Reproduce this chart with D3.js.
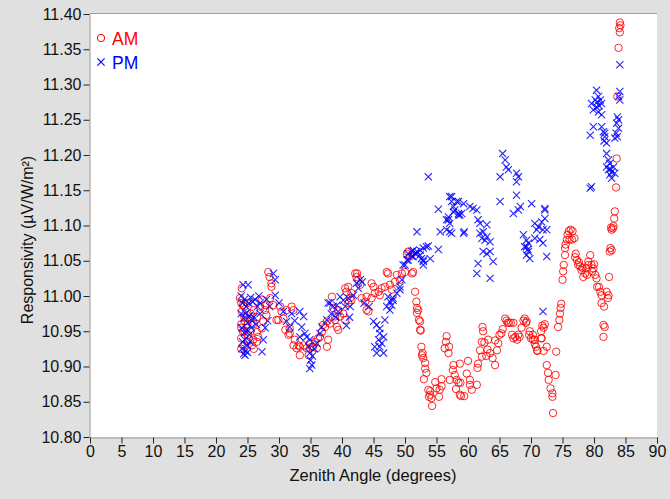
<!DOCTYPE html>
<html>
<head>
<meta charset="utf-8">
<script src="https://cdn.jsdelivr.net/npm/d3@7"></script>
<style>
  html, body { margin: 0; padding: 0; background: #e0e0e0; }
  svg { display: block; }
  text { font-family: "Liberation Sans", Arial, Helvetica, sans-serif; }
</style>
</head>
<body>
<svg id="chart" width="670" height="499"></svg>
<script>
// Responsivity versus zenith angle, morning (AM) and afternoon (PM) runs.
const xTicks = d3.range(0, 91, 5);
const yTicks = [10.80, 10.85, 10.90, 10.95, 11.00, 11.05, 11.10, 11.15, 11.20, 11.25, 11.30, 11.35, 11.40];
const seriesNames = ["AM", "PM"];
const seriesColors = ["#ff0000", "#0000ff"];

// [zenith angle (deg), responsivity (µV/W/m²)]
const amPoints = [
  [24.1,11.011],[23.8,10.997],[24.3,10.987],[24.1,10.978],[24.9,10.973],[24.6,10.964],[25.4,10.968],[24.3,10.949],
  [25.1,10.945],[25.9,10.938],[25.7,10.930],[26.7,10.942],[26.5,10.949],[27.3,10.954],[27.5,10.964],[28.0,10.973],
  [27.8,10.987],[28.6,10.997],[24.0,10.990],[24.0,10.960],[24.0,10.955],[24.0,10.940],[24.0,10.925],[24.5,10.985],
  [24.5,10.970],[24.5,10.950],[24.5,10.930],[25.0,10.990],[25.0,10.960],[25.0,10.935],[25.5,10.975],[25.5,10.950],
  [26.0,10.980],[26.0,10.960],[26.0,10.925],[26.5,10.970],[26.5,10.935],[28.3,11.034],[28.5,11.027],[28.8,11.018],
  [28.8,11.013],[27.3,10.995],[27.0,10.985],[27.8,10.980],
  [29.1,10.987],[29.6,10.966],[30.2,10.985],[30.4,10.978],[30.7,10.968],[31.0,10.952],[31.5,10.945],[31.7,10.954],
  [32.3,10.930],[32.8,10.926],[33.3,10.916],[33.1,10.930],[33.9,10.930],[34.4,10.926],[34.7,10.916],[35.2,10.928],
  [35.7,10.935],[36.2,10.940],[36.8,10.949],[37.0,10.959],[37.6,10.964],[29.9,10.966],[31.2,10.980],[32.0,10.985],
  [32.3,10.980],[31.7,10.947],[32.5,10.938],[33.3,10.928],[34.9,10.933],[35.4,10.928],[36.0,10.926],[36.5,10.942],
  [37.3,10.956],[37.8,10.938],[37.6,10.928],
  [38.1,10.961],[38.9,10.966],[39.2,10.956],[39.4,10.952],[39.7,10.971],[40.2,10.975],[40.5,10.966],[41.0,10.990],
  [41.5,10.994],[38.4,10.999],[38.6,10.983],[39.4,10.980],[38.9,10.971],[40.5,11.011],[41.0,11.013],[40.7,11.006],
  [41.5,11.004],[41.3,10.997],[42.1,11.032],[42.3,11.027],[42.6,11.023],[42.9,11.016],[42.4,11.032],[43.1,10.997],
  [43.7,10.992],[43.9,10.980],[44.2,10.978],[43.9,10.999],[44.7,10.997],[44.7,11.018],[45.0,11.013],[45.2,11.004],
  [45.8,11.006],[46.0,11.001],[46.3,11.011],[46.8,11.013],[47.1,11.034],[47.3,11.032],[47.6,11.016],[47.9,11.009],
  [48.4,11.020],[48.7,11.030],[49.2,11.023],[49.5,11.032],[50.0,11.034],[50.3,11.060],[50.5,11.063],[50.8,11.056],
  [51.1,11.032],[51.3,11.034],[51.6,11.006],[51.8,10.992],[52.1,10.980],[52.2,10.966],[52.4,10.952],[52.6,10.928],
  [52.7,10.916],
  [51.9,10.983],[51.9,10.976],[52.4,10.964],[52.5,10.951],[52.8,10.919],[52.9,10.912],[53.2,10.905],[53.2,10.897],
  [53.4,10.891],[53.0,10.882],[53.7,10.867],[54.0,10.860],[54.2,10.855],[54.3,10.844],[53.8,10.857],[54.0,10.865],
  [54.8,10.878],[55.0,10.869],[55.5,10.867],[55.4,10.857],[55.8,10.882],[55.8,10.872],[56.6,10.943],[56.5,10.935],
  [56.3,10.926],[57.0,10.928],[56.9,10.919],[57.1,10.881],[57.7,10.902],[57.6,10.895],[57.9,10.888],[58.2,10.881],
  [58.7,10.904],[58.1,10.868],[58.5,10.877],[58.8,10.877],[58.7,10.860],[58.9,10.858],[59.4,10.858],[59.8,10.890],
  [60.0,10.908],[60.3,10.881],[60.3,10.874],[60.6,10.867],[61.4,10.874],[61.6,10.904],[61.5,10.898],[61.9,10.923],
  [62.2,10.914],[62.3,10.956],[62.4,10.950],[62.2,10.935],[62.6,10.934],[63.1,10.924],[63.2,10.938],[63.5,10.919],
  [62.9,10.915],[63.9,10.912],[64.3,10.902],[64.6,10.923],[64.3,10.937],[64.8,10.933],[65.0,10.945],[65.3,10.947],
  [65.5,10.953],[65.9,10.968],[66.1,10.965],[66.3,10.962],[66.5,10.962],[66.8,10.962],[67.2,10.962],[67.0,10.945],
  [67.2,10.940],[67.5,10.942],[67.8,10.938],[68.0,10.945],[68.2,10.942],[68.8,10.965],[69.0,10.968],[69.2,10.962],
  [69.7,10.945],[70.0,10.940],[70.3,10.938],[70.6,10.932],[70.8,10.928],[71.0,10.922],[71.6,10.950],[71.6,10.940],
  [71.8,10.958],[72.0,10.922],
  [68.5,10.955],[69.3,10.964],[69.8,10.950],[70.3,10.945],[70.6,10.938],[71.0,10.923],[71.7,10.940],[72.0,10.955],
  [72.2,10.960],[72.5,10.928],[72.5,10.902],[72.7,10.891],[72.8,10.881],[73.1,10.869],[73.4,10.862],[73.4,10.857],
  [73.5,10.834],[73.9,10.888],[74.0,10.921],[74.3,10.956],[74.5,10.966],[74.6,10.975],[74.7,10.983],[74.8,10.989],
  [75.0,11.023],[75.1,11.035],[75.2,11.044],[75.4,11.058],[75.4,11.068],[75.5,11.073],[75.7,11.080],[75.8,11.087],
  [76.0,11.092],[76.3,11.094],[76.6,11.092],[76.1,11.080],[76.5,11.080],[76.9,11.082],[77.1,11.060],[77.3,11.051],
  [77.5,11.044],[77.8,11.042],[78.0,11.037],[78.3,11.027],[78.6,11.032],[78.8,11.039],[79.1,11.044],[79.4,11.058],
  [79.1,11.049],[79.6,11.044],[79.9,11.039],[80.2,11.030],[80.4,11.025],[80.5,11.013],[80.8,11.013],[81.0,11.006],
  [81.2,11.001],[81.2,10.990],[81.6,10.985],[81.5,10.959],[81.7,10.956],[81.5,10.942],[82.0,11.006],[82.3,11.001],
  [82.2,10.997],[82.4,11.027],[82.5,11.063],[82.8,11.065],[82.6,11.068],[82.8,11.094],[83.1,11.099],[83.0,11.096],
  [82.7,11.097],[83.2,11.110],[83.3,11.120],[83.5,11.154],[83.6,11.195],[83.7,11.283],[83.9,11.352],[84.1,11.388],
  [84.2,11.384],[84.0,11.380],[84.1,11.374],
  [77.0,11.055],[77.6,11.048],[78.2,11.040],[78.9,11.030],[79.7,11.035],[80.0,11.045]
];

const pmPoints = [
  [24.3,11.016],[25.1,11.016],[24.0,11.000],[24.2,10.990],[24.5,10.995],[24.8,10.985],[25.2,10.990],[25.5,10.998],
  [25.8,10.992],[26.2,10.995],[26.6,10.985],[27.0,10.990],[24.0,10.975],[24.4,10.968],[24.7,10.975],[25.0,10.962],
  [25.3,10.972],[25.7,10.965],[26.0,10.970],[26.4,10.960],[24.1,10.955],[24.5,10.948],[24.9,10.952],[25.3,10.945],
  [25.6,10.955],[24.2,10.935],[24.6,10.938],[25.0,10.930],[25.4,10.935],[24.1,10.925],[24.4,10.918],[24.7,10.922],
  [24.6,10.916],[25.0,10.920],[27.3,10.921],[27.5,10.938],[27.8,10.955],[28.2,10.965],[27.0,10.975],[28.5,10.985],
  [29.1,11.032],[29.4,11.023],[29.4,11.001],[28.0,10.995],[26.8,11.000],
  [30.7,10.978],[31.2,10.964],[31.7,10.956],[33.3,10.978],[33.9,10.971],[33.6,10.956],[34.1,10.947],[33.3,10.942],
  [34.4,10.942],[34.9,10.938],[34.7,10.928],[34.9,10.919],[35.0,10.909],[35.2,10.902],[34.9,10.897],[36.0,10.933],
  [36.5,10.947],[36.8,10.956],[37.6,10.966],[30.0,10.990],[32.0,10.975],[32.5,10.965],[35.3,10.915],[35.6,10.925],
  [38.1,10.990],[38.6,10.985],[39.2,10.987],[39.4,10.978],[39.7,10.999],[40.2,10.994],[40.5,10.985],[41.0,10.997],
  [41.3,10.985],[41.8,11.001],[42.3,11.018],[42.6,11.011],[42.9,11.023],[37.8,10.990],[38.3,10.975],[39.0,10.970],
  [40.7,10.958],[41.2,10.970],[43.2,11.020],[43.5,10.990],[44.3,10.985],
  [45.0,10.964],[45.5,10.959],[46.0,10.954],[46.6,10.942],[45.8,10.938],[46.3,10.933],[45.5,10.919],[46.8,10.966],
  [46.0,10.947],[46.0,10.928],[46.6,10.919],[45.2,10.928],[47.3,10.999],[47.6,10.992],[47.9,10.987],[48.1,10.997],
  [48.7,11.004],[49.2,11.013],[49.5,11.023],[50.0,11.044],[50.5,11.051],[51.1,11.056],[51.6,11.060],[52.4,11.065],
  [52.6,11.053],[52.9,11.049],[49.7,11.044],[50.3,11.051],[50.5,11.060],[51.1,11.063],[51.3,11.065],[51.8,11.060],
  [47.1,10.985],[47.6,10.980],[48.1,10.994],[49.2,11.009],
  [53.7,11.169],[51.9,11.091],[52.9,11.068],[53.7,11.071],[55.3,11.066],[54.0,11.053],[52.9,11.051],[51.9,11.063],
  [51.3,11.056],[53.4,11.070],[52.4,11.058],[52.9,11.044],
  [55.3,11.123],[55.6,11.091],[56.6,11.108],[56.9,11.112],[57.1,11.141],[57.4,11.134],[57.7,11.127],[57.9,11.122],
  [58.2,11.134],[58.5,11.117],[58.7,11.115],[59.0,11.117],[59.3,11.131],[59.4,11.091],[57.1,11.091],[56.6,11.094],
  [60.3,11.127],[60.8,11.124],[61.4,11.122],[61.6,11.108],[61.9,11.103],[62.4,11.091],[63.0,11.101],[61.9,11.089],
  [62.2,11.082],[62.7,11.079],[63.0,11.084],[63.5,11.077],[62.4,11.063],[63.0,11.060],[63.5,11.063],[61.6,11.046],
  [61.4,11.032],[64.0,11.049],[63.5,11.025],[57.4,11.141],[58.5,11.134],[57.7,11.119],[58.5,11.115],[56.9,11.108],
  [57.1,11.103],[57.4,11.089],[59.3,11.089],
  [65.5,11.202],[65.9,11.193],[66.1,11.183],[66.4,11.179],[65.1,11.169],[67.7,11.174],[68.0,11.169],[67.7,11.162],
  [67.7,11.143],[65.1,11.134],[67.2,11.117],[68.0,11.122],[68.3,11.127],[70.1,11.131],[72.2,11.124],
  [68.8,11.087],[69.3,11.079],[69.6,11.075],[69.3,11.070],[69.6,11.063],[69.3,11.058],[69.8,11.053],[70.6,11.103],
  [71.2,11.098],[70.9,11.094],[71.7,11.105],[72.2,11.110],[71.9,11.094],[71.4,11.080],[72.2,11.122],[72.5,11.056],
  [70.6,11.082],[71.9,11.075],[72.5,11.094],[71.9,10.978],[69.0,11.070],[69.5,11.066],
  [84.1,11.328],[80.4,11.292],[80.7,11.283],[80.2,11.278],[81.0,11.278],[79.6,11.273],[80.4,11.268],[81.2,11.273],
  [79.9,11.264],[80.7,11.261],[81.2,11.257],[80.5,11.275],[80.8,11.270],[79.9,11.240],[79.4,11.228],[81.2,11.240],
  [81.5,11.233],[81.7,11.226],[82.0,11.217],[81.7,11.231],[81.6,11.220],[82.0,11.202],[82.3,11.193],[82.5,11.188],
  [82.3,11.179],[82.8,11.176],[83.1,11.183],[82.5,11.172],[82.8,11.167],[83.3,11.174],[82.0,11.183],[82.6,11.180],
  [79.6,11.155],[79.4,11.153],[84.1,11.290],[83.9,11.283],[84.1,11.278],[83.7,11.254],[83.9,11.250],[83.6,11.245],
  [83.9,11.238],[83.5,11.231],[83.7,11.226],[83.3,11.224]
];

const svg = d3.select("#chart");
const W = 670, H = 499;
const plot = { left: 90, top: 14, right: 657, bottom: 437 };

const x = d3.scaleLinear().domain([0, 90]).range([plot.left, plot.right]);
const y = d3.scaleLinear().domain([10.80, 11.40]).range([plot.bottom, plot.top]);

svg.append("rect").attr("width", W).attr("height", H).attr("fill", "#e0e0e0");

// plot area
svg.append("rect")
  .attr("x", plot.left).attr("y", plot.top - 0.5)
  .attr("width", plot.right - plot.left).attr("height", plot.bottom - plot.top + 0.5)
  .attr("fill", "#ffffff");
svg.append("line")
  .attr("x1", plot.left).attr("x2", plot.right)
  .attr("y1", plot.top - 0.5).attr("y2", plot.top - 0.5)
  .attr("stroke", "#a0a0a0").attr("stroke-width", 1);

// axes
const yAxis = d3.axisLeft(y).tickValues(yTicks).tickFormat(d3.format(".2f")).tickSizeInner(6).tickSizeOuter(0).tickPadding(2);
const xAxis = d3.axisBottom(x).tickValues(xTicks).tickFormat(d3.format("d")).tickSizeInner(6).tickSizeOuter(0).tickPadding(2);

const gy = svg.append("g").attr("transform", `translate(${plot.left - 0.5},0)`).call(yAxis);
const gx = svg.append("g").attr("transform", `translate(0,${plot.bottom + 0.5})`).call(xAxis);
[gy, gx].forEach(g => {
  g.select(".domain").attr("stroke", "#999999");
  g.selectAll(".tick line").attr("stroke", "#222222");
  g.selectAll(".tick text").attr("fill", "#111111").attr("font-size", 16)
    .attr("font-family", "'Liberation Sans', Arial, Helvetica, sans-serif");
});

// axis titles
svg.append("text")
  .attr("x", 373).attr("y", 481)
  .attr("text-anchor", "middle").attr("font-size", 16.5).attr("fill", "#111111")
  .text("Zenith Angle (degrees)");
svg.append("text")
  .attr("transform", "translate(33,240) rotate(-90)")
  .attr("text-anchor", "middle").attr("font-size", 16).attr("fill", "#111111")
  .text("Responsivity (µV/W/m²)");

// marks
svg.append("clipPath").attr("id", "plotclip").append("rect")
  .attr("x", plot.left).attr("y", plot.top - 6)
  .attr("width", plot.right - plot.left).attr("height", plot.bottom - plot.top + 6);

const marks = svg.append("g").attr("clip-path", "url(#plotclip)");
const r = 3.7, c = 3.6;

marks.append("g").selectAll("circle").data(amPoints).join("circle")
  .attr("cx", d => x(d[0])).attr("cy", d => y(d[1])).attr("r", r)
  .attr("fill", "none").attr("stroke", seriesColors[0]).attr("stroke-width", 1).attr("stroke-opacity", 0.85);

const crossPath = (px, py) => `M${px - c},${py - c}L${px + c},${py + c}M${px - c},${py + c}L${px + c},${py - c}`;
marks.append("g").selectAll("path").data(pmPoints).join("path")
  .attr("d", d => crossPath(x(d[0]), y(d[1])))
  .attr("fill", "none").attr("stroke", seriesColors[1]).attr("stroke-width", 1.1).attr("stroke-opacity", 0.85);

// legend
const legend = svg.append("g").attr("transform", "translate(101,38)");
seriesNames.forEach((name, i) => {
  const row = legend.append("g").attr("transform", `translate(0,${i * 24})`);
  if (i === 0) {
    row.append("circle").attr("r", r).attr("fill", "none").attr("stroke", seriesColors[0]).attr("stroke-width", 1);
  } else {
    row.append("path").attr("d", crossPath(0, 0)).attr("stroke", seriesColors[1]).attr("stroke-width", 1.1);
  }
  row.append("text").attr("x", 11).attr("y", 6.5).attr("font-size", 17.5)
    .attr("fill", seriesColors[i]).text(name);
});
</script>
</body>
</html>
